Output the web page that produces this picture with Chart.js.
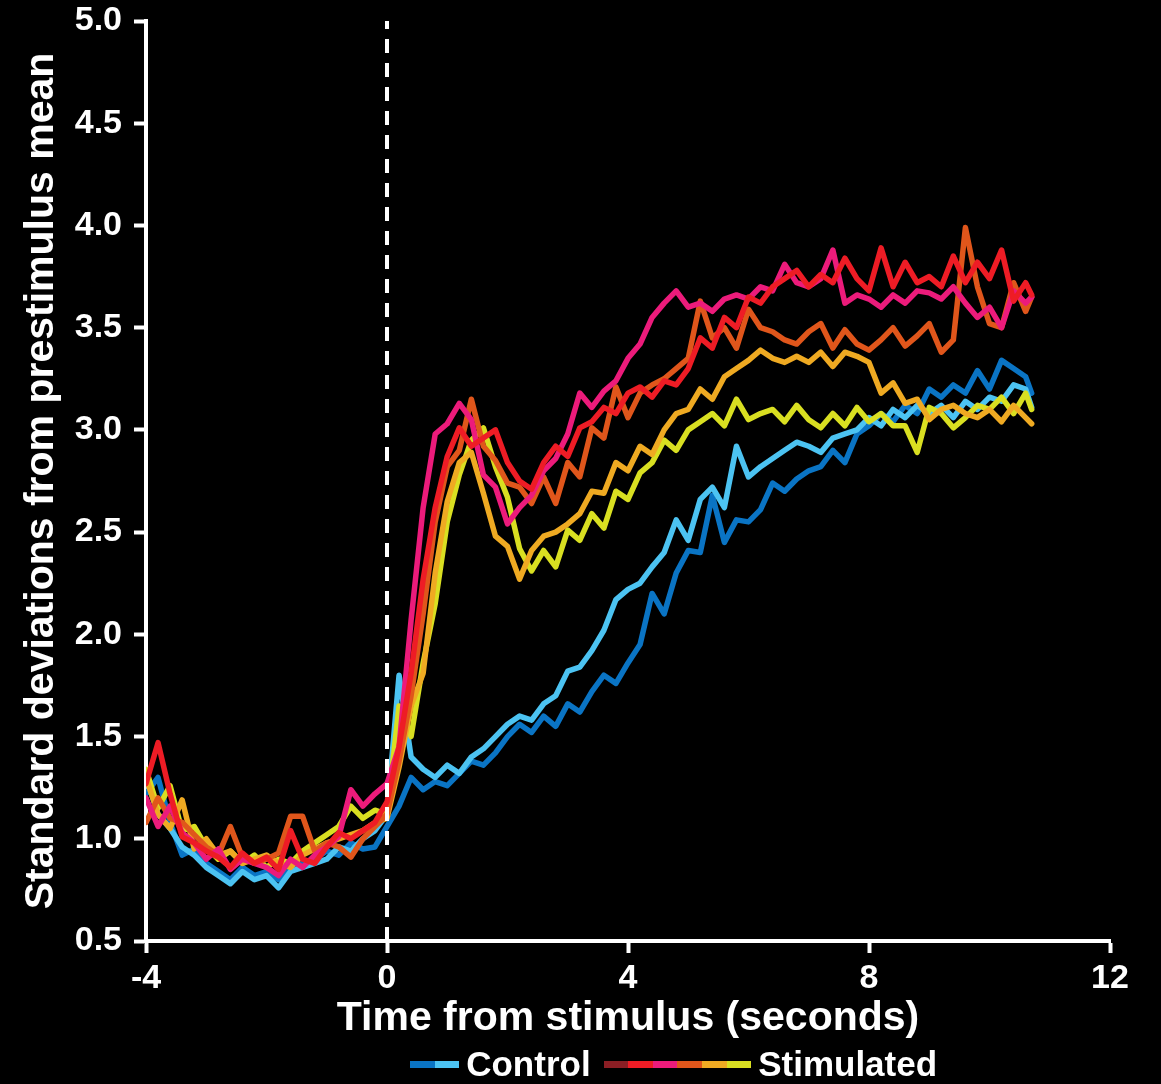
<!DOCTYPE html>
<html>
<head>
<meta charset="utf-8">
<script src="https://cdn.jsdelivr.net/npm/chart.js@4"></script>
<style>
  html, body { margin: 0; padding: 0; background: #000; }
  #wrap { position: relative; width: 1161px; height: 1084px; }
  #legend { position: absolute; left: 410px; top: 1044px; height: 40px; display: flex; align-items: center;
            font: bold 35px "Liberation Sans", Arial, sans-serif; color: #fff; white-space: nowrap; }
  .sw { display: inline-block; width: 24.6px; height: 7px; }
  .lbl { margin: 0 13px 0 7px; }
</style>
</head>
<body>
<div id="wrap">
  <canvas id="chart" width="1161" height="1084"></canvas>
  <div id="legend"></div>
</div>
<script>
// time axis (seconds from stimulus)
const times = [-4.0, -3.8, -3.6, -3.4, -3.2, -3.0, -2.8, -2.6, -2.4, -2.2,
  -2.0, -1.8, -1.6, -1.4, -1.2, -1.0, -0.8, -0.6, -0.4, -0.2,
  0.0, 0.2, 0.4, 0.6, 0.8, 1.0, 1.2, 1.4, 1.6, 1.8,
  2.0, 2.2, 2.4, 2.6, 2.8, 3.0, 3.2, 3.4, 3.6, 3.8,
  4.0, 4.2, 4.4, 4.6, 4.8, 5.0, 5.2, 5.4, 5.6, 5.8,
  6.0, 6.2, 6.4, 6.6, 6.8, 7.0, 7.2, 7.4, 7.6, 7.8,
  8.0, 8.2, 8.4, 8.6, 8.8, 9.0, 9.2, 9.4, 9.6, 9.8,
  10.0, 10.2, 10.4, 10.6, 10.7];

// control traces
const controlDark = [1.22, 1.30, 1.08, 0.92, 0.95, 0.88, 0.84, 0.80, 0.86, 0.82,
  0.84, 0.80, 0.86, 0.88, 0.90, 0.94, 0.92, 0.98, 0.95, 0.96,
  1.06, 1.16, 1.30, 1.24, 1.28, 1.26, 1.32, 1.38, 1.36, 1.42,
  1.50, 1.56, 1.52, 1.60, 1.55, 1.66, 1.62, 1.72, 1.80, 1.76,
  1.86, 1.95, 2.20, 2.10, 2.30, 2.41, 2.40, 2.68, 2.45, 2.56,
  2.55, 2.61, 2.74, 2.70, 2.76, 2.80, 2.82, 2.90, 2.84, 2.98,
  3.02, 3.08, 3.04, 3.12, 3.08, 3.20, 3.16, 3.22, 3.18, 3.29,
  3.20, 3.34, 3.30, 3.26, 3.18];
const controlLight = [1.30, 1.12, 1.05, 0.96, 0.92, 0.86, 0.82, 0.78, 0.84, 0.80,
  0.82, 0.76, 0.84, 0.86, 0.88, 0.90, 0.96, 0.94, 1.00, 1.04,
  1.12, 1.80, 1.40, 1.34, 1.30, 1.36, 1.32, 1.40, 1.44, 1.50,
  1.56, 1.60, 1.58, 1.66, 1.70, 1.82, 1.84, 1.92, 2.02, 2.17,
  2.22, 2.25, 2.33, 2.40, 2.56, 2.46, 2.66, 2.72, 2.62, 2.92,
  2.77, 2.82, 2.86, 2.90, 2.94, 2.92, 2.89, 2.96, 2.98, 3.00,
  3.06, 3.02, 3.10, 3.06, 3.12, 3.08, 3.12, 3.06, 3.14, 3.10,
  3.16, 3.14, 3.22, 3.20, 3.11];

// stimulated traces
const stimRed = [1.27, 1.47, 1.22, 1.01, 0.98, 0.94, 0.91, 0.86, 0.93, 0.88,
  0.91, 0.85, 1.04, 0.90, 0.88, 0.96, 1.03, 1.00, 1.04, 1.08,
  1.18, 1.45, 1.81, 2.27, 2.62, 2.87, 3.01, 2.92, 2.96, 3.00,
  2.84, 2.75, 2.71, 2.84, 2.92, 2.87, 3.01, 3.04, 3.11, 3.08,
  3.18, 3.21, 3.16, 3.24, 3.22, 3.30, 3.45, 3.40, 3.55, 3.50,
  3.65, 3.62, 3.70, 3.74, 3.78, 3.70, 3.76, 3.72, 3.84, 3.74,
  3.68, 3.89, 3.70, 3.82, 3.72, 3.75, 3.70, 3.85, 3.72, 3.82,
  3.74, 3.88, 3.63, 3.72, 3.66];
const stimPink = [1.20, 1.06, 1.16, 1.03, 0.98, 0.90, 0.95, 0.85, 0.90, 0.88,
  0.86, 0.82, 0.90, 0.86, 0.92, 0.96, 1.01, 1.24, 1.16, 1.22,
  1.27, 1.45, 2.07, 2.62, 2.98, 3.03, 3.13, 3.05, 2.78, 2.72,
  2.54, 2.62, 2.68, 2.80, 2.86, 2.98, 3.18, 3.11, 3.19, 3.24,
  3.35, 3.42, 3.55, 3.62, 3.68, 3.60, 3.62, 3.58, 3.64, 3.66,
  3.64, 3.70, 3.68, 3.81, 3.72, 3.70, 3.74, 3.88, 3.62, 3.66,
  3.64, 3.60, 3.66, 3.62, 3.68, 3.67, 3.64, 3.70, 3.62, 3.55,
  3.60, 3.50, 3.68, 3.62, 3.65];
const stimDarkOrange = [1.08, 1.20, 1.10, 1.08, 1.02, 0.96, 0.92, 1.06, 0.91, 0.88,
  0.90, 0.93, 1.11, 1.11, 0.94, 0.98, 0.96, 0.91, 1.00, 1.06,
  1.12, 1.38, 1.70, 2.10, 2.55, 2.82, 2.90, 3.15, 2.92, 2.85,
  2.74, 2.72, 2.64, 2.77, 2.64, 2.84, 2.77, 3.01, 2.96, 3.21,
  3.06, 3.18, 3.22, 3.25, 3.30, 3.35, 3.63, 3.45, 3.50, 3.40,
  3.59, 3.50, 3.48, 3.44, 3.42, 3.48, 3.52, 3.40, 3.49, 3.42,
  3.39, 3.44, 3.50, 3.41, 3.46, 3.52, 3.38, 3.44, 3.99, 3.70,
  3.52, 3.50, 3.72, 3.58, 3.65];
const stimAmber = [1.30, 1.12, 1.05, 1.19, 0.95, 1.00, 0.92, 0.94, 0.88, 0.90,
  0.92, 0.88, 0.86, 0.92, 0.95, 0.98, 1.00, 1.02, 1.04, 1.08,
  1.10, 1.35, 1.65, 1.81, 2.30, 2.65, 2.84, 2.89, 2.69, 2.48,
  2.43, 2.27, 2.41, 2.48, 2.50, 2.54, 2.59, 2.70, 2.69, 2.84,
  2.80, 2.92, 2.88, 3.00, 3.08, 3.10, 3.20, 3.15, 3.26, 3.30,
  3.34, 3.39, 3.35, 3.33, 3.36, 3.33, 3.38, 3.31, 3.38, 3.36,
  3.33, 3.18, 3.23, 3.13, 3.15, 3.05, 3.10, 3.12, 3.08, 3.06,
  3.10, 3.04, 3.12, 3.06, 3.03];
const stimYellow = [1.34, 1.15, 1.26, 1.04, 1.06, 0.96, 0.90, 0.94, 0.88, 0.92,
  0.86, 0.90, 0.88, 0.94, 0.98, 1.02, 1.06, 1.16, 1.10, 1.14,
  1.12, 1.65, 1.50, 1.86, 2.15, 2.55, 2.78, 2.95, 3.01, 2.82,
  2.67, 2.42, 2.31, 2.41, 2.33, 2.51, 2.46, 2.59, 2.52, 2.70,
  2.66, 2.79, 2.84, 2.95, 2.90, 3.00, 3.04, 3.08, 3.02, 3.15,
  3.05, 3.08, 3.10, 3.04, 3.12, 3.05, 3.01, 3.08, 3.02, 3.11,
  3.04, 3.08, 3.02, 3.02, 2.89, 3.11, 3.08, 3.01, 3.06, 3.12,
  3.10, 3.16, 3.08, 3.18, 3.10];

const stimulusTime = 0;
const yRange = [0.5, 5.0];
const xRange = [-4, 12];

const font = '"Liberation Sans", Arial, sans-serif';
const pts = (ys) => ys.map((y, i) => ({ x: times[i], y }));

function line(data, color) {
  return {
    data: pts(data),
    borderColor: color,
    borderWidth: 5.5,
    pointRadius: 0,
    tension: 0,
    borderJoinStyle: 'round',
    borderCapStyle: 'round'
  };
}

// first dataset ends up on top
const datasets = [
  {
    data: [{ x: stimulusTime, y: yRange[0] }, { x: stimulusTime, y: yRange[1] }],
    borderColor: '#fff', borderWidth: 4, borderDash: [14, 10], pointRadius: 0
  },
  line(stimRed, '#ee1c25'),
  line(stimPink, '#ec1b7b'),
  line(stimDarkOrange, '#e0561b'),
  line(stimAmber, '#efaa22'),
  line(stimYellow, '#d9df21'),
  line(controlLight, '#4cc3f2'),
  line(controlDark, '#0a74c4')
];

new Chart(document.getElementById('chart'), {
  type: 'line',
  data: { datasets },
  options: {
    responsive: false,
    animation: false,
    layout: { padding: { top: 21, right: 51, left: 0, bottom: 0 } },
    plugins: { legend: { display: false }, tooltip: { enabled: false } },
    scales: {
      x: {
        type: 'linear',
        min: xRange[0], max: xRange[1],
        ticks: { stepSize: 4, color: '#fff', padding: 5, font: { family: font, size: 34, weight: 'bold' } },
        grid: { drawOnChartArea: false, tickLength: 12, tickColor: '#fff', tickWidth: 4 },
        border: { color: '#fff', width: 4 },
        title: {
          display: true, text: 'Time from stimulus (seconds)', color: '#fff',
          font: { family: font, size: 41, weight: 'bold' }, padding: { top: 0, bottom: 41 }
        },
        afterFit: (s) => { s.height = 1084 - 941; s.paddingLeft = 0; s.paddingRight = 0; }
      },
      y: {
        min: yRange[0], max: yRange[1],
        ticks: {
          stepSize: 0.5, color: '#fff', padding: 12,
          font: { family: font, size: 34, weight: 'bold' },
          callback: (v) => v.toFixed(1)
        },
        grid: { drawOnChartArea: false, tickLength: 12, tickColor: '#fff', tickWidth: 4 },
        border: { color: '#fff', width: 4 },
        title: {
          display: true, text: 'Standard deviations from prestimulus mean', color: '#fff',
          font: { family: font, size: 41, weight: 'bold' }, padding: { top: 17, bottom: 0 }
        },
        afterFit: (s) => { s.width = 146; s.paddingTop = 0; s.paddingBottom = 0; }
      }
    }
  }
});

// legend with split colour swatches
const legendGroups = [
  { label: 'Control', colors: ['#0a74c4', '#4cc3f2'] },
  { label: 'Stimulated', colors: ['#8b1e24', '#ee1c25', '#ec1b7b', '#e0561b', '#efaa22', '#d9df21'] }
];
const legendEl = document.getElementById('legend');
legendGroups.forEach((g) => {
  g.colors.forEach((c) => {
    const s = document.createElement('span');
    s.className = 'sw';
    s.style.background = c;
    legendEl.appendChild(s);
  });
  const t = document.createElement('span');
  t.className = 'lbl';
  t.textContent = g.label;
  legendEl.appendChild(t);
});
</script>
</body>
</html>
